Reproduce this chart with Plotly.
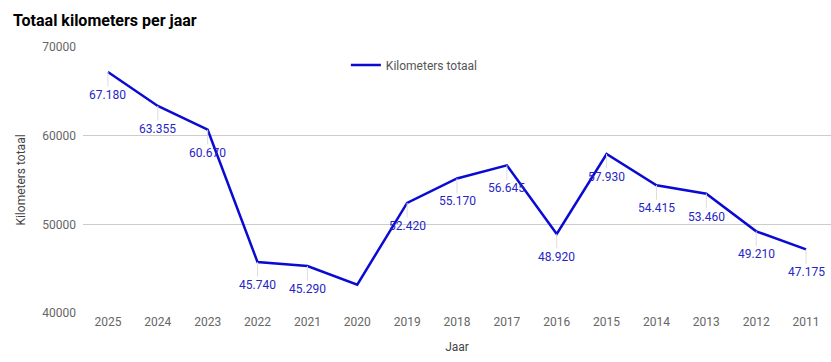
import plotly.graph_objects as go

years = ["2025", "2024", "2023", "2022", "2021", "2020", "2019", "2018",
         "2017", "2016", "2015", "2014", "2013", "2012", "2011"]
km_total = [67180, 63355, 60670, 45740, 45290, 43200, 52420, 55170,
            56645, 48920, 57930, 54415, 53460, 49210, 47175]
show_label = [True, True, True, True, True, False, True, True,
              True, True, True, True, True, True, True]
y_ticks = [40000, 50000, 60000, 70000]

LINE = "#0a0ad2"
LABEL = "#2626c4"
FONT = "Roboto, Arial, sans-serif"

fig = go.Figure()
fig.add_trace(go.Scatter(
    x=years, y=km_total, mode="lines", name="Kilometers totaal",
    line=dict(color=LINE, width=2.5), hoverinfo="skip",
))

annotations = []
for i, (v, show) in enumerate(zip(km_total, show_label)):
    if not show:
        continue
    annotations.append(dict(
        x=i, y=v, xref="x", yref="y",
        text=f"{v:,}".replace(",", "."),
        showarrow=True, arrowhead=0, arrowwidth=1, arrowcolor="#dddddd",
        ax=0, ay=23, font=dict(family=FONT, size=12, color=LABEL),
    ))

fig.update_layout(
    width=831, height=362,
    margin=dict(l=83, r=0, t=47, b=49),
    paper_bgcolor="white", plot_bgcolor="white",
    font=dict(family=FONT, size=12, color="#666666"),
    title=dict(text="<b>Totaal kilometers per jaar</b>", x=13 / 831, xanchor="left",
               y=1 - 20 / 362, yanchor="middle",
               font=dict(family=FONT, size=16, color="#000000")),
    showlegend=True,
    legend=dict(orientation="h", x=0.443, xanchor="center", y=0.932, yanchor="middle",
                bgcolor="rgba(0,0,0,0)", itemwidth=30,
                font=dict(family=FONT, size=12, color="#555555")),
    annotations=annotations,
    xaxis=dict(type="category", range=[-0.5, len(years) - 0.5], autorange=False,
               showgrid=False, zeroline=False, showline=False,
               ticks="", tickfont=dict(family=FONT, size=12, color="#666666"),
               title=dict(text="Jaar", standoff=14,
                          font=dict(family=FONT, size=12, color="#444444"))),
    yaxis=dict(range=[40000, 70000], tickvals=y_ticks, tickformat="d",
               showgrid=True, gridcolor="#cccccc", gridwidth=1, zeroline=False,
               showline=False, ticks="", ticklabelstandoff=6,
               tickfont=dict(family=FONT, size=12, color="#666666"),
               title=dict(text="Kilometers totaal", standoff=14,
                          font=dict(family=FONT, size=12, color="#444444"))),
)

fig.write_html("out.html", config={"displayModeBar": False},
               post_script="document.body.style.margin='0';")
